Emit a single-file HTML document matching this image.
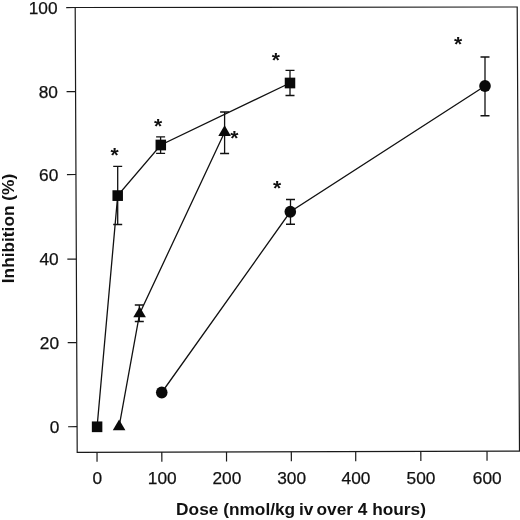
<!DOCTYPE html>
<html><head><meta charset="utf-8"><title>Inhibition vs Dose</title>
<style>
html,body{margin:0;padding:0;background:#fff;}
body{width:520px;height:520px;overflow:hidden;}
svg{display:block;}
text{font-family:"Liberation Sans",Arial,Helvetica,sans-serif;fill:#111;}
.tick{font-size:17.3px;stroke:#111;stroke-width:0.25px;}
.lab{font-size:17.3px;font-weight:bold;}
.ast{font-size:21px;font-weight:bold;}
</style></head><body>
<svg width="520" height="520" viewBox="0 0 520 520">
<rect x="0" y="0" width="520" height="520" fill="#fff"/>
<polygon points="75.2,7.5 517.2,7 519.5,451.1 77.2,452.3" fill="none" stroke="#1a1a1a" stroke-width="1.2"/>
<line x1="66.20" y1="7.55" x2="75.20" y2="7.5" stroke="#1a1a1a" stroke-width="1.2"/>
<text class="tick" x="57.50" y="13.80" text-anchor="end">100</text>
<line x1="66.58" y1="91.60" x2="75.58" y2="91.55" stroke="#1a1a1a" stroke-width="1.2"/>
<text class="tick" x="57.88" y="97.85" text-anchor="end">80</text>
<line x1="66.95" y1="174.55" x2="75.95" y2="174.5" stroke="#1a1a1a" stroke-width="1.2"/>
<text class="tick" x="58.25" y="180.80" text-anchor="end">60</text>
<line x1="67.33" y1="259.15" x2="76.33" y2="259.1" stroke="#1a1a1a" stroke-width="1.2"/>
<text class="tick" x="58.63" y="265.40" text-anchor="end">40</text>
<line x1="67.71" y1="342.65" x2="76.71" y2="342.6" stroke="#1a1a1a" stroke-width="1.2"/>
<text class="tick" x="59.01" y="348.90" text-anchor="end">20</text>
<line x1="68.09" y1="426.75" x2="77.09" y2="426.7" stroke="#1a1a1a" stroke-width="1.2"/>
<text class="tick" x="59.39" y="433.00" text-anchor="end">0</text>
<line x1="97" y1="452.25" x2="97.05" y2="461.85" stroke="#1a1a1a" stroke-width="1.2"/>
<text class="tick" x="97.2" y="484.30" text-anchor="middle">0</text>
<line x1="161.8" y1="452.07" x2="161.85000000000002" y2="461.67" stroke="#1a1a1a" stroke-width="1.2"/>
<text class="tick" x="162.2" y="484.30" text-anchor="middle">100</text>
<line x1="226.5" y1="451.89" x2="226.55" y2="461.49" stroke="#1a1a1a" stroke-width="1.2"/>
<text class="tick" x="226.9" y="484.30" text-anchor="middle">200</text>
<line x1="291.3" y1="451.72" x2="291.35" y2="461.32" stroke="#1a1a1a" stroke-width="1.2"/>
<text class="tick" x="291.6" y="484.30" text-anchor="middle">300</text>
<line x1="355.7" y1="451.54" x2="355.75" y2="461.14" stroke="#1a1a1a" stroke-width="1.2"/>
<text class="tick" x="356" y="484.30" text-anchor="middle">400</text>
<line x1="420.8" y1="451.37" x2="420.85" y2="460.97" stroke="#1a1a1a" stroke-width="1.2"/>
<text class="tick" x="421" y="484.30" text-anchor="middle">500</text>
<line x1="487" y1="451.19" x2="487.05" y2="460.79" stroke="#1a1a1a" stroke-width="1.2"/>
<text class="tick" x="487.2" y="484.30" text-anchor="middle">600</text>
<polyline points="97.1,426.8 117.7,195.6 160.8,145 290,83" fill="none" stroke="#111" stroke-width="1.3"/>
<polyline points="119.1,426.7 139.6,313.7 224.6,132.3" fill="none" stroke="#111" stroke-width="1.3"/>
<polyline points="161.75,392.5 290.3,211.8 485,86" fill="none" stroke="#111" stroke-width="1.3"/>
<path d="M113.2,166.3H122.2M117.7,166.3V224.5M113.2,224.5H122.2" fill="none" stroke="#111" stroke-width="1.3"/>
<path d="M156.1,136.8H165.1M160.6,136.8V153.3M156.1,153.3H165.1" fill="none" stroke="#111" stroke-width="1.3"/>
<path d="M285.5,70.4H294.5M290,70.4V95.5M285.5,95.5H294.5" fill="none" stroke="#111" stroke-width="1.3"/>
<path d="M134.8,305H143.8M139.3,305V321.5M134.8,321.5H143.8" fill="none" stroke="#111" stroke-width="1.3"/>
<path d="M220.1,112H229.1M224.6,112V153.5M220.1,153.5H229.1" fill="none" stroke="#111" stroke-width="1.3"/>
<path d="M286.0,199.5H295.0M290.5,199.5V224.25M286.0,224.25H295.0" fill="none" stroke="#111" stroke-width="1.3"/>
<path d="M480.5,57H489.5M485,57V115.75M480.5,115.75H489.5" fill="none" stroke="#111" stroke-width="1.3"/>
<rect x="91.85" y="421.45" width="10.5" height="10.7" fill="#0a0a0a"/>
<rect x="112.45" y="190.25" width="10.5" height="10.7" fill="#0a0a0a"/>
<rect x="155.55" y="139.65" width="10.5" height="10.7" fill="#0a0a0a"/>
<rect x="284.75" y="77.65" width="10.5" height="10.7" fill="#0a0a0a"/>
<polygon points="119.10,419.60 125.40,430.30 112.80,430.30" fill="#0a0a0a"/>
<polygon points="139.60,306.60 145.90,317.30 133.30,317.30" fill="#0a0a0a"/>
<polygon points="224.60,125.20 230.90,135.90 218.30,135.90" fill="#0a0a0a"/>
<ellipse cx="161.75" cy="392.5" rx="5.8" ry="6" fill="#0a0a0a"/>
<ellipse cx="290.3" cy="211.8" rx="5.8" ry="6" fill="#0a0a0a"/>
<ellipse cx="485" cy="86" rx="5.8" ry="6" fill="#0a0a0a"/>
<text class="ast" x="114.6" y="162.10" text-anchor="middle">*</text>
<text class="ast" x="158.1" y="132.60" text-anchor="middle">*</text>
<text class="ast" x="275.8" y="67.30" text-anchor="middle">*</text>
<text class="ast" x="234.4" y="145.10" text-anchor="middle">*</text>
<text class="ast" x="277.1" y="194.50" text-anchor="middle">*</text>
<text class="ast" x="458" y="51.30" text-anchor="middle">*</text>
<text class="lab" x="301.05" y="514.5" text-anchor="middle">Dose (nmol/kg<tspan dx="-1"> iv</tspan><tspan dx="-1.7"> over 4 hours)</tspan></text>
<text class="lab" transform="translate(14.2,228.5) rotate(-90)" text-anchor="middle">Inhibition (%)</text>
</svg></body></html>
